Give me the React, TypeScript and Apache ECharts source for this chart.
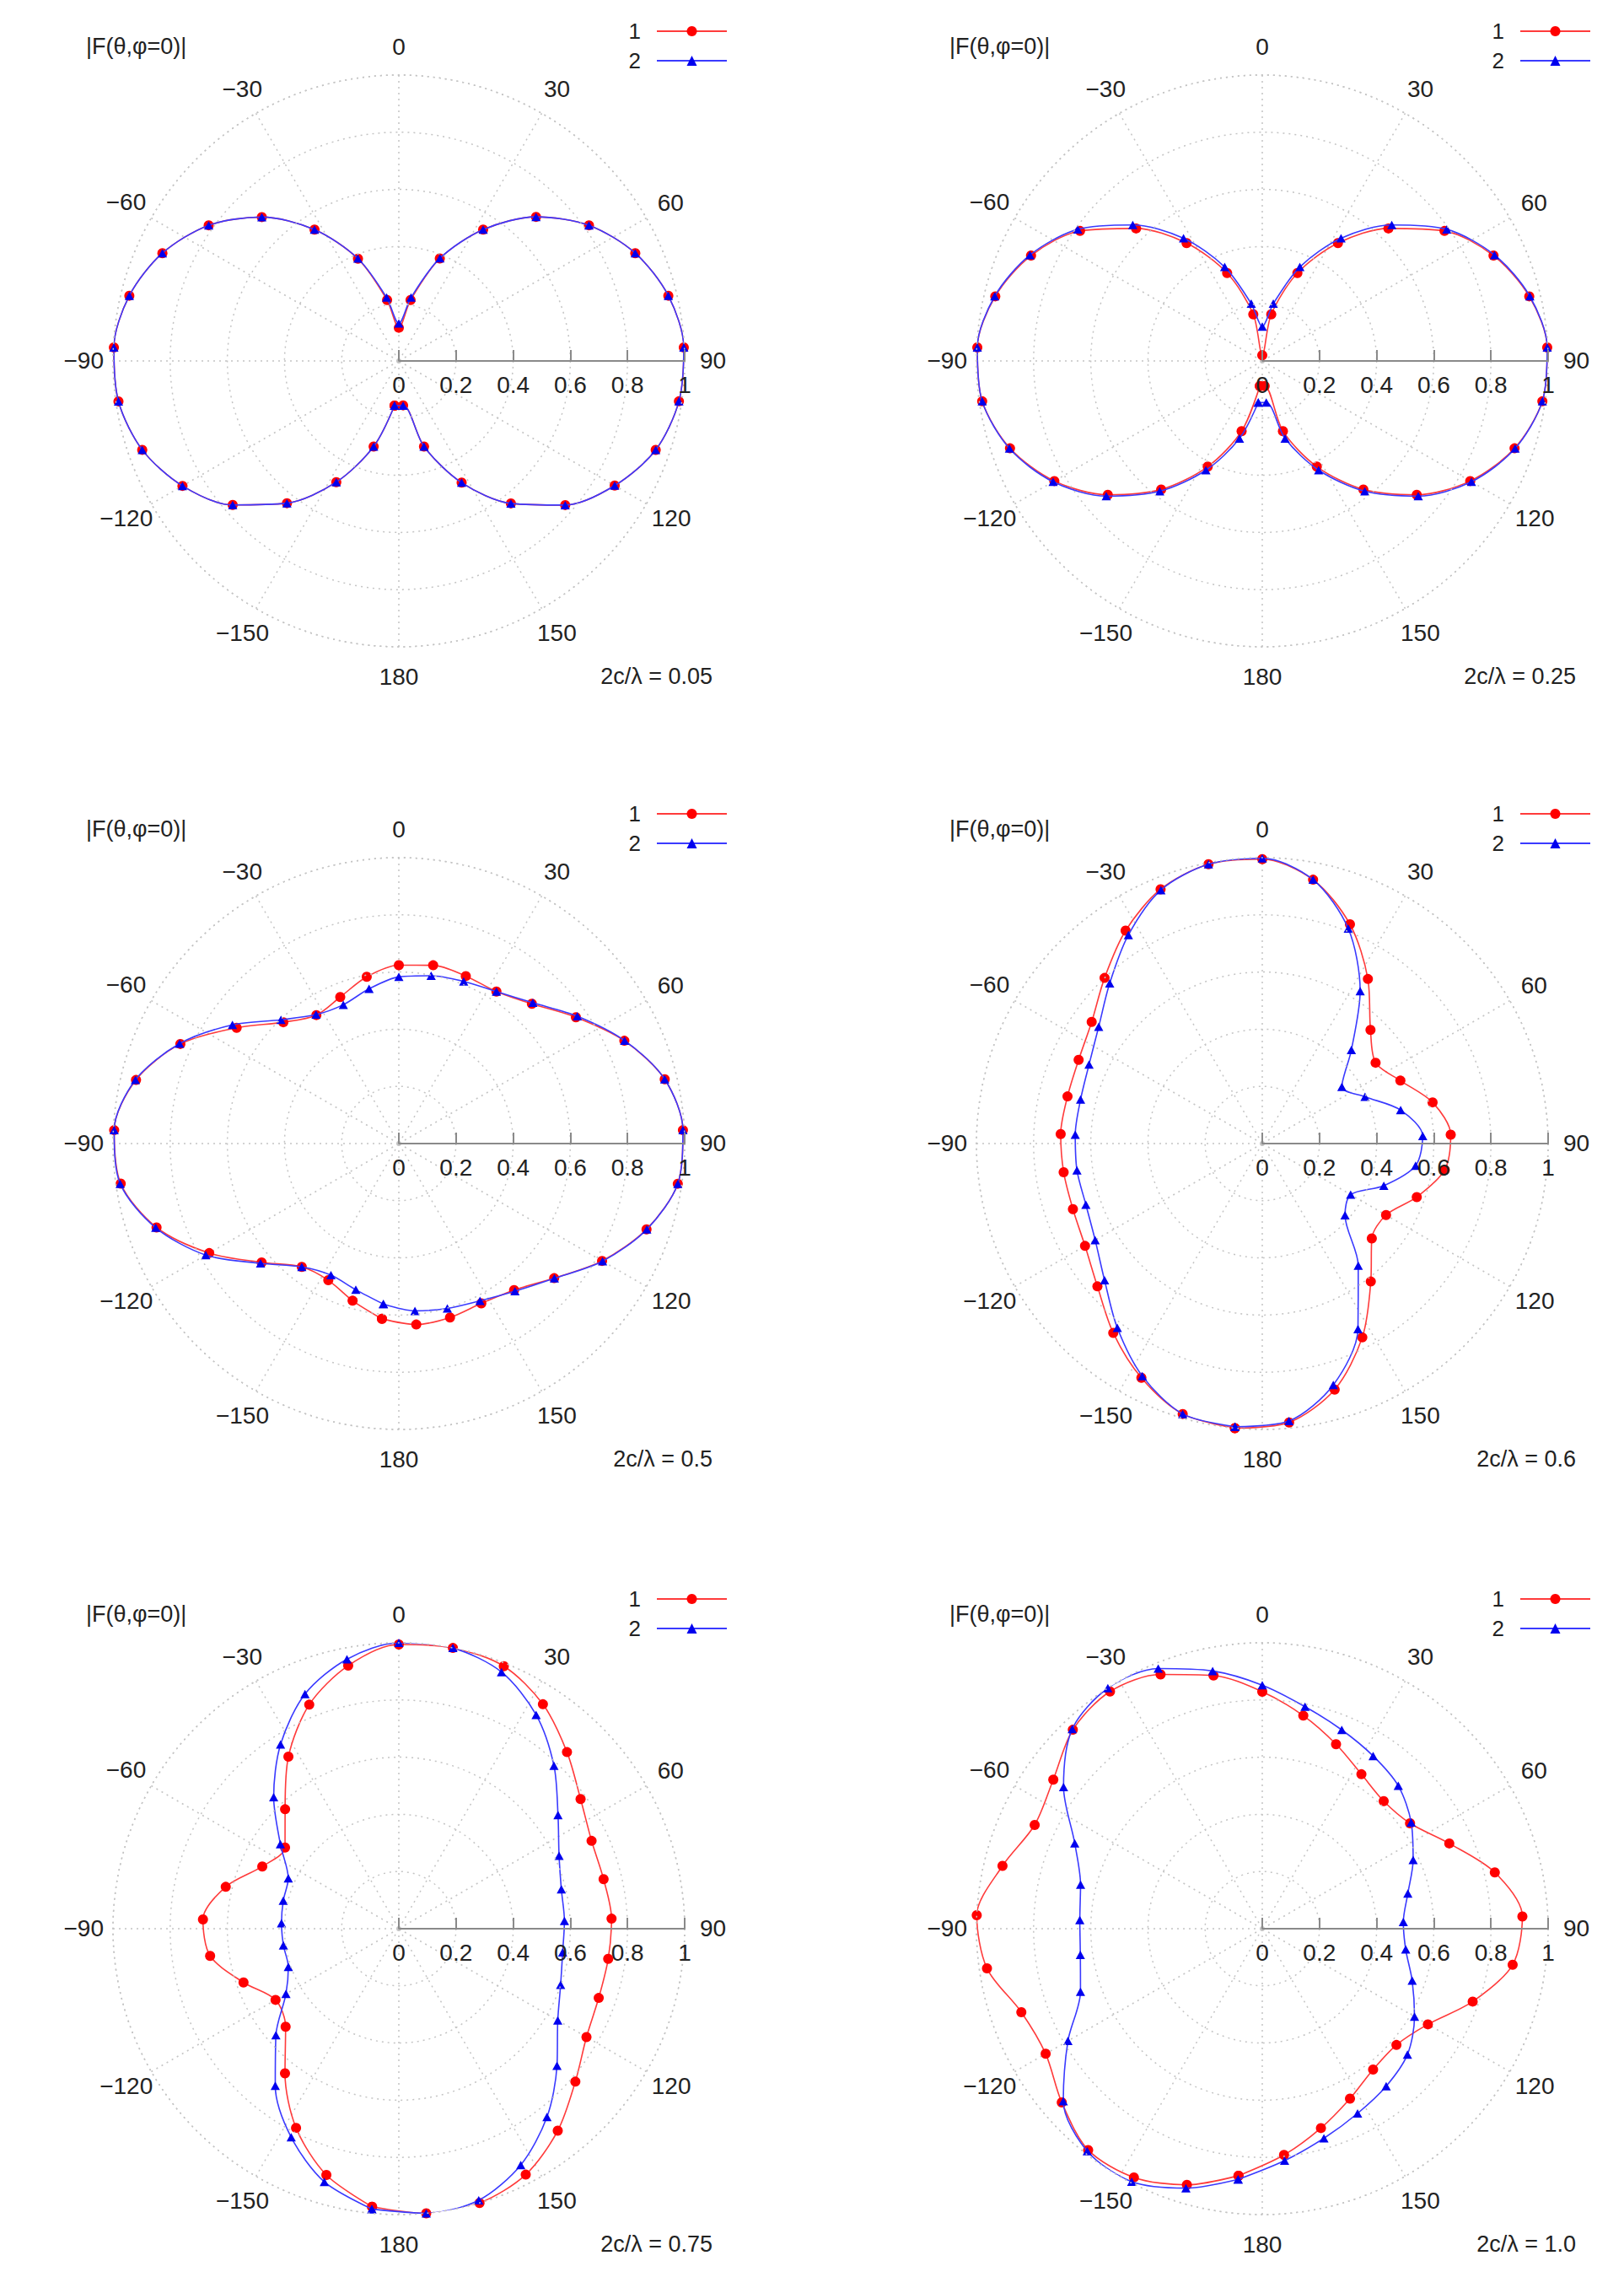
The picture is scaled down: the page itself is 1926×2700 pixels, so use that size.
import React, { useEffect, useRef } from "react";
import * as echarts from "echarts";

// Angles (degrees) at which the markers are plotted, clockwise from the top
const ANGLES = [
  -174.5, -163.6, -152.7, -141.8, -130.9, -120, -109.1, -98.2, -87.3, -76.4, -65.5,
  -54.5, -43.6, -32.7, -21.8, -10.9, 0, 10.9, 21.8, 32.7, 43.6, 54.5, 65.5, 76.4,
  87.3, 98.2, 109.1, 120, 130.9, 141.8, 152.7, 163.6, 174.5,
];

const SERIES_NAMES = ["1", "2"];
const Y_LABEL = "|F(θ,φ=0)|";
const PANEL_LABELS = [
  "2c/λ = 0.05",
  "2c/λ = 0.25",
  "2c/λ = 0.5",
  "2c/λ = 0.6",
  "2c/λ = 0.75",
  "2c/λ = 1.0",
];

// 2c/λ = 0.05
const P1_S1 = [
  0.157, 0.312, 0.477, 0.633, 0.769, 0.874, 0.95, 0.991, 0.998, 0.97, 0.909, 0.817,
  0.695, 0.546, 0.385, 0.217, 0.116, 0.217, 0.386, 0.546, 0.696, 0.817, 0.909, 0.97,
  0.998, 0.99, 0.951, 0.872, 0.77, 0.634, 0.479, 0.312, 0.156,
];
const P1_S2 = [
  0.157, 0.312, 0.477, 0.633, 0.769, 0.874, 0.95, 0.991, 0.998, 0.97, 0.909, 0.817,
  0.695, 0.546, 0.386, 0.226, 0.131, 0.226, 0.387, 0.546, 0.696, 0.817, 0.909, 0.97,
  0.998, 0.99, 0.951, 0.872, 0.77, 0.634, 0.479, 0.312, 0.157,
];

// 2c/λ = 0.25
const P2_S1 = [
  0.088, 0.256, 0.416, 0.572, 0.715, 0.84, 0.934, 0.99, 0.998, 0.961, 0.889, 0.783,
  0.64, 0.49, 0.331, 0.166, 0.02, 0.166, 0.331, 0.49, 0.64, 0.783, 0.889, 0.961,
  0.998, 0.99, 0.934, 0.84, 0.715, 0.572, 0.416, 0.256, 0.088,
];
const P2_S2 = [
  0.146, 0.283, 0.43, 0.58, 0.722, 0.845, 0.936, 0.99, 0.998, 0.963, 0.893, 0.793,
  0.657, 0.51, 0.354, 0.204, 0.12, 0.204, 0.354, 0.51, 0.657, 0.793, 0.893, 0.963,
  0.998, 0.99, 0.936, 0.845, 0.722, 0.58, 0.43, 0.283, 0.146,
];

// 2c/λ = 0.5
const P3_S1 = [
  0.616, 0.573, 0.538, 0.549, 0.635, 0.766, 0.897, 0.983, 0.997, 0.946, 0.84, 0.697,
  0.586, 0.534, 0.552, 0.594, 0.624, 0.635, 0.631, 0.632, 0.675, 0.761, 0.867, 0.957,
  0.995, 0.986, 0.917, 0.821, 0.719, 0.652, 0.629, 0.634, 0.636,
];
const P3_S2 = [
  0.564, 0.533, 0.518, 0.549, 0.64, 0.78, 0.9, 0.985, 0.997, 0.948, 0.843, 0.715,
  0.598, 0.536, 0.523, 0.551, 0.583, 0.598, 0.611, 0.632, 0.68, 0.767, 0.868, 0.957,
  0.995, 0.986, 0.918, 0.823, 0.72, 0.657, 0.619, 0.601, 0.588,
];

// 2c/λ = 0.6
const P4_S1 = [
  1.0, 0.986, 0.922, 0.843, 0.763, 0.716, 0.701, 0.702, 0.706, 0.701, 0.706, 0.733,
  0.8, 0.885, 0.958, 0.995, 0.995, 0.94, 0.826, 0.684, 0.549, 0.487, 0.531, 0.613,
  0.66, 0.645, 0.572, 0.5, 0.507, 0.614, 0.763, 0.897, 0.98,
];
const P4_S2 = [
  0.995, 0.986, 0.915, 0.82, 0.73, 0.675, 0.653, 0.655, 0.655, 0.654, 0.666, 0.703,
  0.774, 0.867, 0.955, 0.995, 0.998, 0.94, 0.81, 0.634, 0.452, 0.342, 0.395, 0.498,
  0.562, 0.542, 0.45, 0.357, 0.383, 0.543, 0.73, 0.88, 0.975,
];

// 2c/λ = 0.75
const P5_S1 = [
  0.977, 0.898, 0.784, 0.644, 0.524, 0.498, 0.575, 0.667, 0.686, 0.623, 0.525, 0.489,
  0.577, 0.715, 0.844, 0.937, 0.994, 1.0, 0.989, 0.933, 0.853, 0.781, 0.741, 0.737,
  0.745, 0.74, 0.74, 0.758, 0.817, 0.899, 0.968, 1.0, 1.0,
];
const P5_S2 = [
  0.985, 0.923, 0.821, 0.699, 0.569, 0.456, 0.409, 0.408, 0.411, 0.416, 0.425, 0.509,
  0.635, 0.766, 0.884, 0.96, 1.0, 1.0, 0.967, 0.889, 0.787, 0.684, 0.616, 0.585,
  0.58, 0.579, 0.599, 0.642, 0.732, 0.838, 0.93, 0.99, 1.0,
];

// 2c/λ = 1.0
const P6_S1 = [
  0.868, 0.934, 0.979, 0.985, 0.928, 0.875, 0.892, 0.973, 1.0, 0.935, 0.875, 0.898,
  0.961, 0.986, 0.958, 0.902, 0.829, 0.759, 0.695, 0.642, 0.616, 0.635, 0.719, 0.837,
  0.911, 0.885, 0.779, 0.669, 0.621, 0.627, 0.669, 0.727, 0.795,
];
const P6_S2 = [
  0.881, 0.946, 0.996, 0.99, 0.921, 0.785, 0.673, 0.643, 0.639, 0.654, 0.721, 0.854,
  0.964, 1.0, 0.98, 0.918, 0.852, 0.791, 0.749, 0.718, 0.69, 0.64, 0.58, 0.524,
  0.494, 0.507, 0.555, 0.615, 0.672, 0.701, 0.727, 0.764, 0.815,
];

const PANELS = [
  [P1_S1, P1_S2],
  [P2_S1, P2_S2],
  [P3_S1, P3_S2],
  [P4_S1, P4_S2],
  [P5_S1, P5_S2],
  [P6_S1, P6_S2],
];

// Layout
const W = 1926;
const H = 2700;
const COL_X = [473, 1497];
const ROW_Y = [428, 1356, 2287];
const R = 339;

const FONT = "'Liberation Sans', Arial, sans-serif";
const TEXT = "#222";
const GRID = "#c4c4c4";
const AXIS = "#8a8a8a";
const RED_LINE = "#ff3b3b";
const RED = "#ff0000";
const BLUE_LINE = "#3a3aff";
const BLUE = "#0000ee";

// angle-label paddings [top, right, bottom, left] so labels sit centred on a ring
const LABEL_PAD: Record<string, number[]> = {
  z0: [0, 0, 51, 0],
  p30: [0, 0, 42, 18],
  p60: [0, 0, 20, 40],
  p90: [0, 0, 2, 49],
  p120: [18, 0, 0, 33],
  p150: [42, 0, 0, 10],
  p180: [52, 0, 0, 0],
  n150: [42, 0, 0, 0],
  n120: [18, 25, 0, 0],
  n90: [0, 42, 2, 0],
  n60: [0, 33, 21, 0],
  n30: [0, 8, 42, 0],
};

const angleRich: Record<string, any> = {};
Object.keys(LABEL_PAD).forEach((k) => {
  angleRich[k] = {
    fontSize: 28,
    fontFamily: FONT,
    color: TEXT,
    padding: LABEL_PAD[k],
  };
});

// map a plotted angle (0 = top, clockwise) onto the axis domain [-270, 90]
const toAxisAngle = (a: number) => (a > 90 ? a - 360 : a);

const fmtAngle = (v: number) => {
  const d = v <= -180 ? v + 360 : v;
  const key = d === 0 ? "z0" : d > 0 ? "p" + d : "n" + -d;
  const txt = String(d).replace("-", "\u2212");
  return angleRich[key] ? `{${key}|${txt}}` : txt;
};

function buildOption() {
  const polar: any[] = [];
  const angleAxis: any[] = [];
  const radiusAxis: any[] = [];
  const series: any[] = [];
  const legend: any[] = [];
  const title: any[] = [];
  const gridLine = { color: GRID, width: 1.5, type: [2, 5] };

  PANELS.forEach((vals, i) => {
    const cx = COL_X[i % 2];
    const cy = ROW_Y[Math.floor(i / 2)];
    polar.push({ center: [cx, cy], radius: R });
    angleAxis.push({
      polarIndex: i,
      type: "value",
      min: -270,
      max: 90,
      interval: 30,
      startAngle: 0,
      clockwise: true,
      axisLine: { show: true, lineStyle: gridLine },
      axisTick: { show: false },
      splitLine: { show: true, lineStyle: gridLine },
      axisLabel: {
        margin: -31,
        fontSize: 28,
        color: TEXT,
        fontFamily: FONT,
        formatter: fmtAngle,
        rich: angleRich,
      },
    });
    radiusAxis.push({
      polarIndex: i,
      type: "value",
      min: 0,
      max: 1,
      interval: 0.2,
      axisLine: { show: true, lineStyle: { color: AXIS, width: 2 } },
      axisTick: { show: true, inside: false, length: 13, lineStyle: { color: AXIS, width: 2 } },
      axisLabel: {
        show: true,
        margin: -42,
        fontSize: 28,
        color: TEXT,
        fontFamily: FONT,
      },
      splitLine: { show: true, lineStyle: gridLine },
      z: 5,
    });
    const mk = (arr: number[]) => {
      const d = ANGLES.map((a, j) => [arr[j], toAxisAngle(a)]);
      d.push(d[0]);
      return d;
    };
    series.push({
      name: SERIES_NAMES[0],
      type: "line",
      coordinateSystem: "polar",
      polarIndex: i,
      data: mk(vals[0]),
      smooth: 0.3,
      clip: false,
      symbol: "circle",
      symbolSize: 12,
      showSymbol: true,
      itemStyle: { color: RED },
      lineStyle: { color: RED_LINE, width: 1.6 },
      z: 3,
    });
    series.push({
      name: SERIES_NAMES[1],
      type: "line",
      coordinateSystem: "polar",
      polarIndex: i,
      data: mk(vals[1]),
      smooth: 0.3,
      clip: false,
      symbol: "triangle",
      symbolSize: [11, 10],
      showSymbol: true,
      itemStyle: { color: BLUE },
      lineStyle: { color: BLUE_LINE, width: 1.6 },
      z: 4,
    });
    legend.push({
      data: SERIES_NAMES,
      orient: "vertical",
      right: W - (cx + 390),
      top: cy - 404,
      align: "right",
      itemWidth: 83,
      itemHeight: 15,
      itemGap: 9,
      padding: 0,
      selectedMode: false,
      textStyle: { fontSize: 26, color: TEXT, fontFamily: FONT, padding: [0, 14, 0, 0] },
    });
    title.push({
      text: Y_LABEL,
      left: cx - 371,
      top: cy - 387,
      padding: 0,
      textStyle: { fontSize: 27, fontWeight: "normal", color: TEXT, fontFamily: FONT },
    });
    title.push({
      text: PANEL_LABELS[i],
      right: W - (cx + 372),
      top: cy + 360,
      padding: 0,
      textStyle: { fontSize: 27, fontWeight: "normal", color: TEXT, fontFamily: FONT },
    });
  });

  return {
    animation: false,
    backgroundColor: "#ffffff",
    textStyle: { fontFamily: FONT },
    title,
    legend,
    polar,
    angleAxis,
    radiusAxis,
    series,
  };
}

export default function App() {
  const ref = useRef<HTMLDivElement>(null);
  useEffect(() => {
    if (!ref.current) return;
    const chart = echarts.init(ref.current, undefined, { renderer: "svg" });
    chart.setOption(buildOption() as any);
    return () => chart.dispose();
  }, []);
  return (
    <div
      ref={ref}
      style={{ position: "absolute", left: 0, top: 0, width: W, height: H, background: "#fff" }}
    />
  );
}
